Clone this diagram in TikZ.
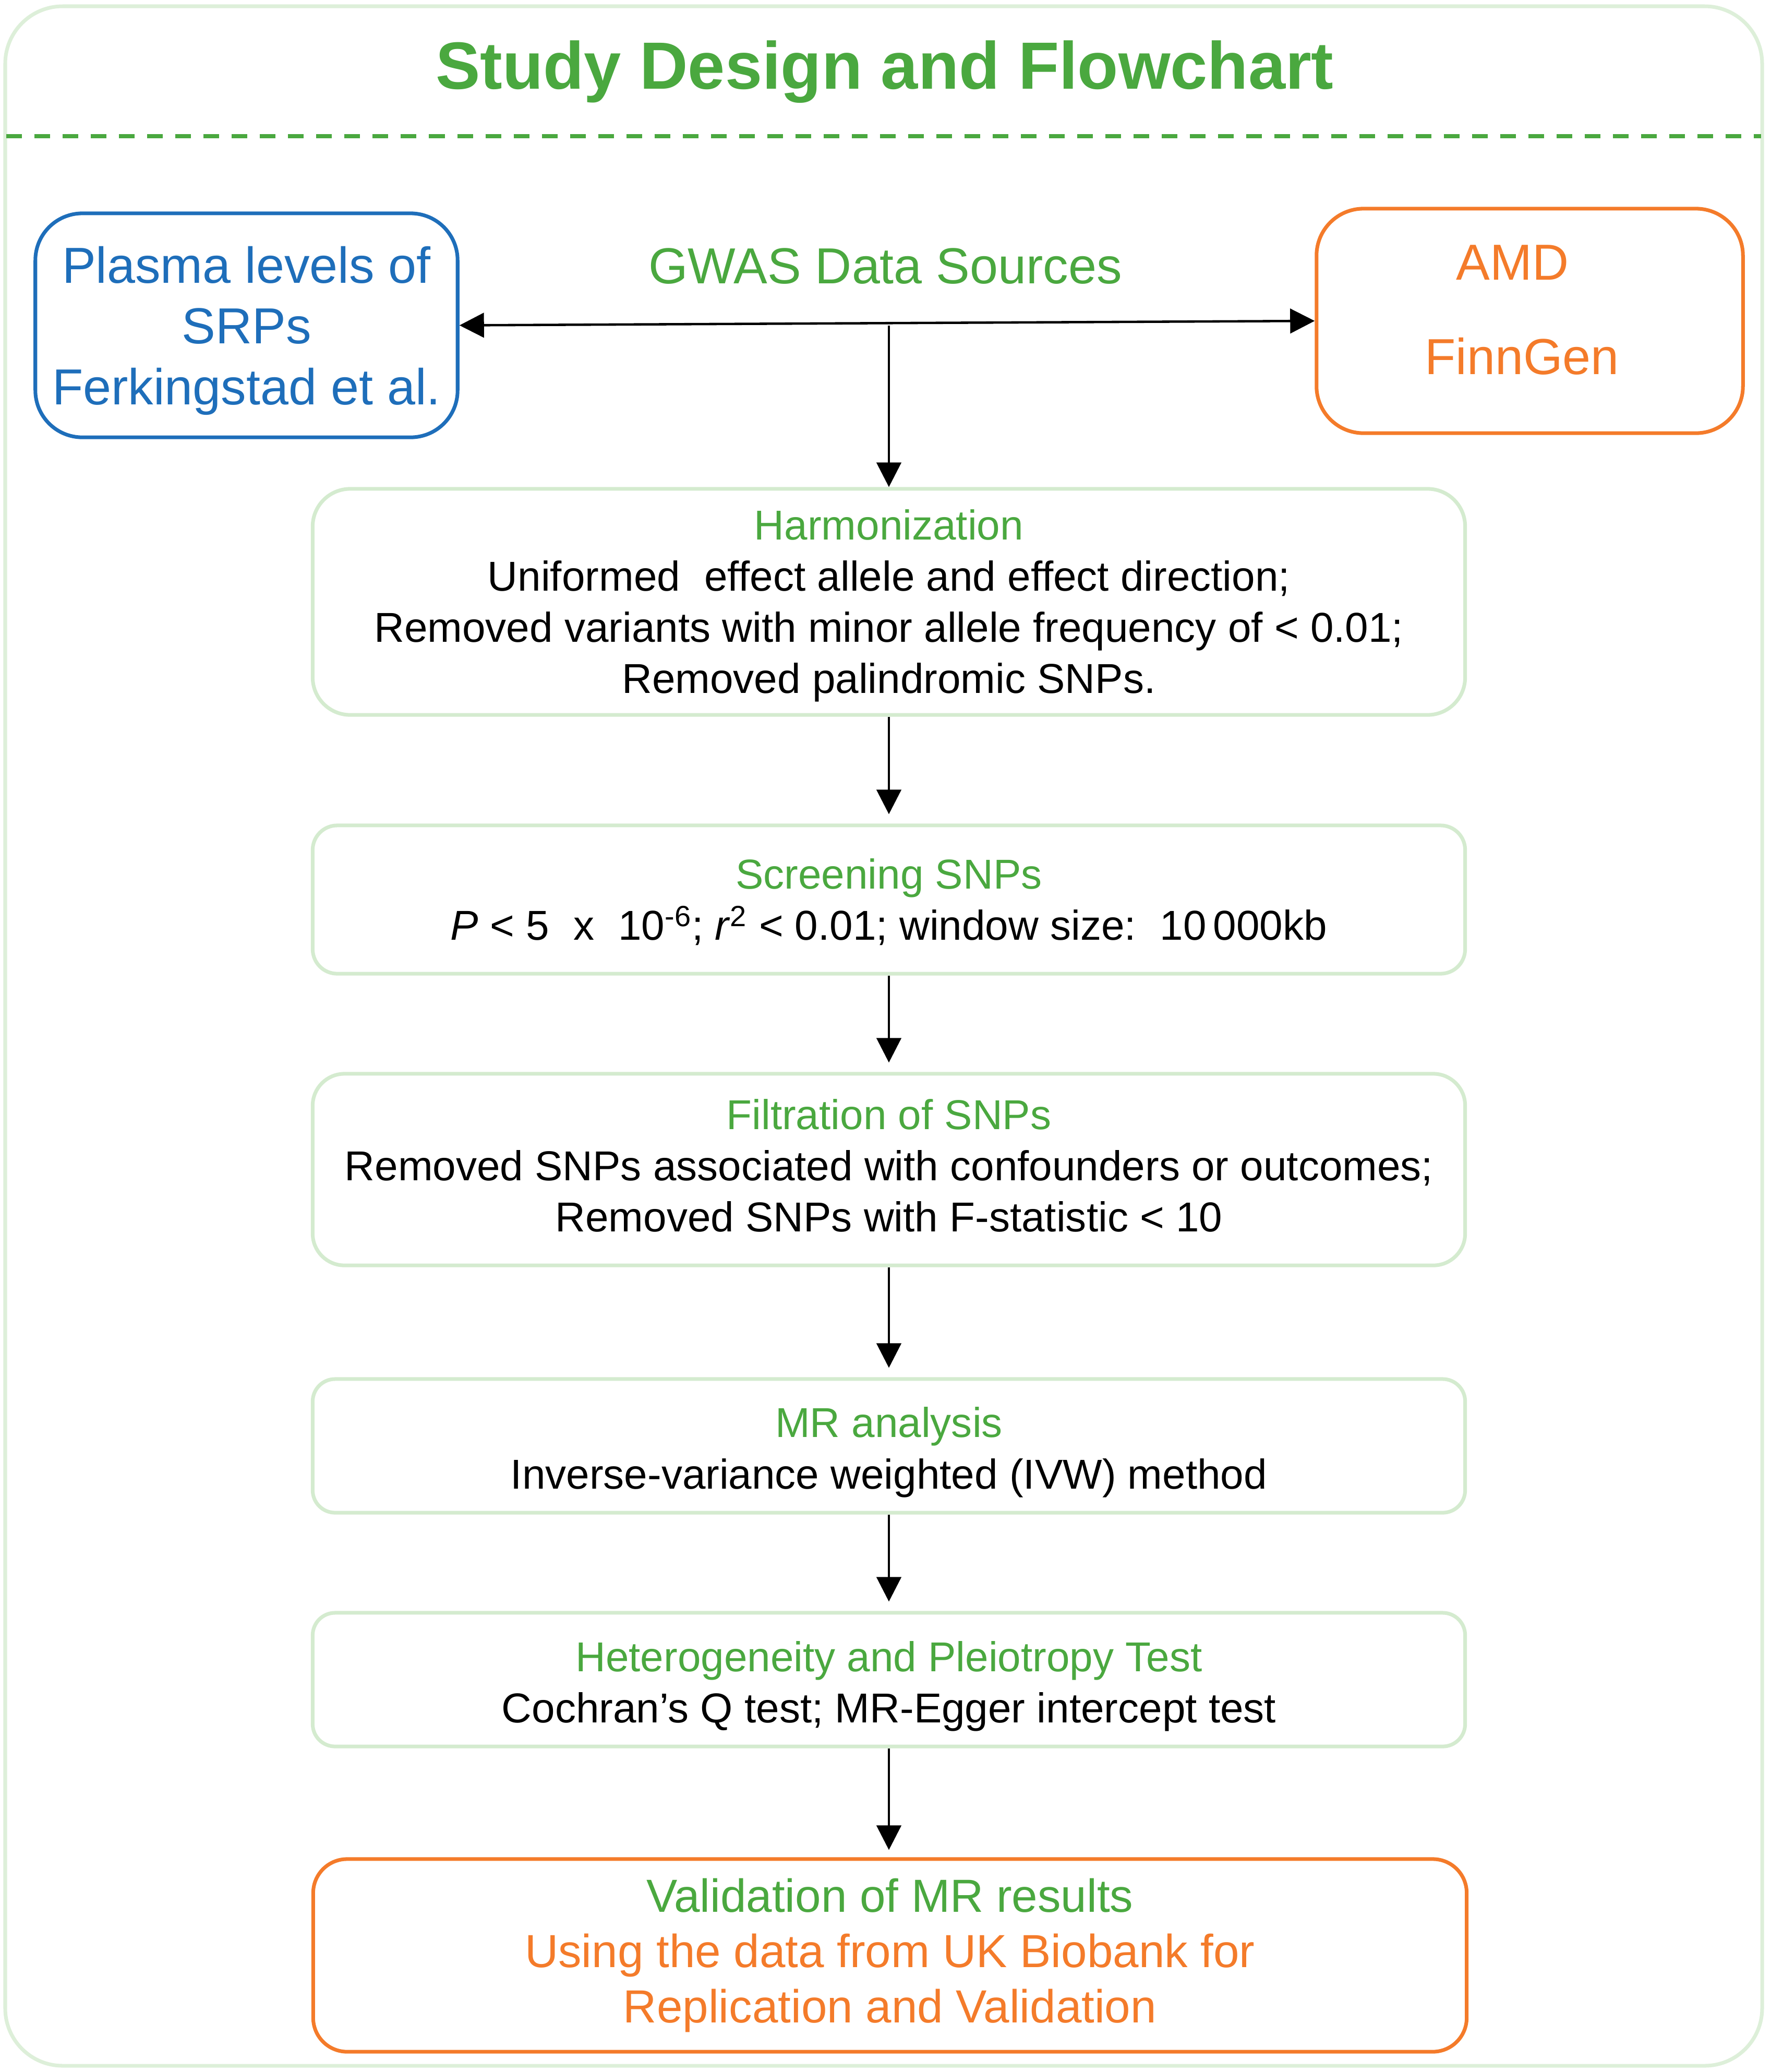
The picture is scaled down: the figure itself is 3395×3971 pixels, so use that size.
\documentclass[tikz,border=0pt]{standalone}
\usepackage{fontspec}
\setmainfont{Liberation Sans}
\usetikzlibrary{arrows.meta}
\definecolor{hdgreen}{RGB}{74,168,63}
\definecolor{lgreen}{RGB}{212,235,207}
\definecolor{framegreen}{RGB}{221,239,217}
\definecolor{myblue}{RGB}{30,110,186}
\definecolor{myorange}{RGB}{244,123,42}
\begin{document}
\begin{tikzpicture}[x=0.01cm,y=-0.01cm,
  stepbox/.style={draw=lgreen, line width=2pt, fill=white, minimum width=22.08cm,
    inner sep=0pt, align=center, font=\fontsize{22.76pt}{27.9pt}\selectfont},
  srcbox/.style={line width=2pt, fill=white, inner sep=0pt, align=center,
    rounded corners=0.9cm},
  arr/.style={line width=1.3pt, -{Triangle[length=0.47cm,width=0.47cm]}},
  darr/.style={line width=1.3pt, {Triangle[length=0.47cm,width=0.47cm]}-{Triangle[length=0.47cm,width=0.47cm]}},
  hd/.style={text=hdgreen}]
\useasboundingbox (0,0) rectangle (3395,3971);
\fill[white] (0,0) rectangle (3395,3971);
% outer frame
\draw[framegreen, line width=2pt, rounded corners=1.1cm] (10,12) rectangle (3378,3959);
% title and dashed separator
\node[anchor=base, text=hdgreen, font=\fontsize{36.4pt}{40pt}\selectfont\bfseries] (title) at (1696,170) {Study Design and Flowchart};
\draw[hdgreen, line width=2.3pt, dash pattern=on 0.3cm off 0.24cm] (12,261) -- (3376,261);
% data sources
\node[srcbox, draw=myblue, text=myblue, minimum width=8.09cm, minimum height=4.29cm,
  font=\fontsize{27.6pt}{33.15pt}\selectfont] (blue) at (472.5,623.5)
  {\rule{0pt}{25.9pt}Plasma levels of\\SRPs\\Ferkingstad et al.};
\node[srcbox, draw=myorange, text=myorange, minimum width=8.17cm, minimum height=4.3cm,
  font=\fontsize{27.6pt}{51.5pt}\selectfont] (orange) at (2932.5,615)
  {AMD\rule{0.66cm}{0pt}\\FinnGen\rule{0.3cm}{0pt}\rule[-12.2pt]{0pt}{0pt}};
\node[anchor=base, text=hdgreen, font=\fontsize{27.6pt}{33pt}\selectfont] (gwas) at (1697,543) {GWAS Data Sources};
% flow steps
\node[stepbox, minimum height=4.33cm, rounded corners=0.72cm] (harm) at (1704,1153.5)
  {\rule{0pt}{20.7pt}{\color{hdgreen}Harmonization}\\
   Uniformed\hspace{0.3em} effect allele and effect direction;\\
   Removed variants with minor allele frequency of < 0.01;\\
   Removed palindromic SNPs.};
\node[stepbox, minimum height=2.84cm, rounded corners=0.47cm] (screen) at (1704,1724)
  {\rule{0pt}{19.2pt}{\color{hdgreen}Screening SNPs}\\
   \textit{P} < 5\hspace{0.3em} x\hspace{0.3em} 10\textsuperscript{-6}; \textit{r}\textsuperscript{2} < 0.01; window size:\hspace{0.2em} 10\,000kb};
\node[stepbox, minimum height=3.67cm, rounded corners=0.61cm] (filtr) at (1704,2241.5)
  {{\color{hdgreen}Filtration of SNPs}\\
   Removed SNPs associated with confounders or outcomes;\\
   Removed SNPs with F-statistic < 10\rule[-4.4pt]{0pt}{0pt}};
\node[stepbox, minimum height=2.56cm, rounded corners=0.43cm] (mr) at (1704,2771)
  {\rule{0pt}{23.5pt}{\color{hdgreen}MR analysis}\\
   Inverse-variance weighted (IVW) method};
\node[stepbox, minimum height=2.56cm, rounded corners=0.43cm] (het) at (1704,3219)
  {\rule{0pt}{23.5pt}{\color{hdgreen}Heterogeneity and Pleiotropy Test}\\
   Cochran’s Q test; MR-Egger intercept test};
\node[stepbox, draw=myorange, text=myorange, minimum width=22.1cm, minimum height=3.69cm,
  rounded corners=0.65cm, font=\fontsize{25.3pt}{30.2pt}\selectfont] (valid) at (1706,3747.5)
  {{\color{hdgreen}Validation of MR results}\\
   Using the data from UK Biobank for\\
   Replication and Validation};
% connectors
\coordinate (j) at (harm.north |- blue.east);
\draw[darr] (blue.east) -- (orange.west);
\draw[arr] (j) -- (harm.north);
\draw[arr, shorten >=0.18cm] (harm) -- (screen);
\draw[arr, shorten >=0.18cm] (screen) -- (filtr);
\draw[arr, shorten >=0.18cm] (filtr) -- (mr);
\draw[arr, shorten >=0.18cm] (mr) -- (het);
\draw[arr, shorten >=0.14cm] (het) -- (valid.north -| het.south);
\end{tikzpicture}
\end{document}
